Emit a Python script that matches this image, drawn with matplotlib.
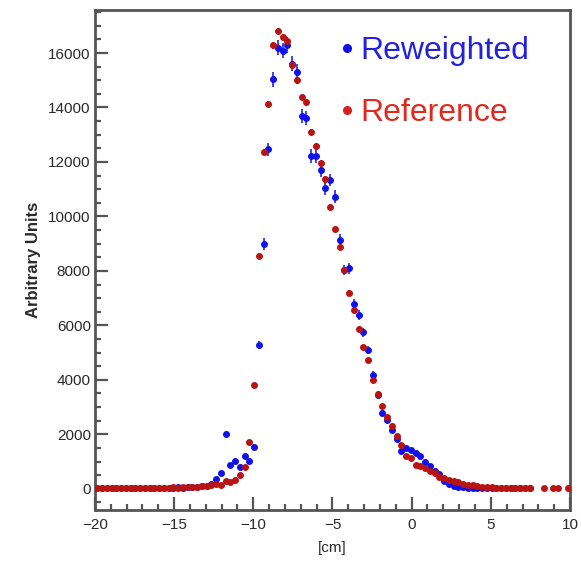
import numpy as np
import matplotlib
matplotlib.use("Agg")
import matplotlib.pyplot as plt
from matplotlib.ticker import MultipleLocator
from matplotlib.lines import Line2D

plt.rcParams['font.family'] = ['Liberation Sans', 'DejaVu Sans']

# ---- data (bin centres in cm, 0.3 cm bins) ----
bin_lo, bin_hi, bin_w = -20.0, 10.0, 0.3
x = np.round(np.arange(bin_lo + bin_w / 2, bin_hi, bin_w), 2)

reference = np.array([
    20, 25, 20, 25, 30, 20, 25, 30, 25, 30,
    35, 30, 40, 35, 45, 40, 50, 45, 60, 55,
    70, 80, 90, 100, 140, 160, 150, 300, 230, 320,
    500, 800, 1720, 3800, 8550, 12350, 14130, 16280, 16800, 16580,
    16450, 15550, 15000, 14380, 14190, 13100, 12600, 11950, 11360, 10340,
    9530, 8880, 8040, 7200, 6570, 5860, 5220, 4720, 4000, 3480,
    3050, 2650, 2290, 1920, 1610, 1190, 1130, 880, 820, 760,
    660, 570, 450, 390, 330, 290, 230, 180, 150, 120,
    100, 80, 70, 55, 45, 40, 35, 30, 25, 20,
    20, 15, np.nan, np.nan, 10, np.nan, 10, 10, np.nan, 10,
], dtype=float)

reweighted = np.array([
    30, 25, 20, 25, 20, 25, 30, 25, 30, 35,
    30, 35, 40, 35, 40, 45, 40, 50, 45, 50,
    60, 70, 90, 110, 180, 340, 580, 2010, 880, 1020,
    800, 1190, 1020, 1540, 5280, 8990, 12460, 15040, 16200, 16080,
    16300, 15600, 15320, 13680, 13600, 12220, 12220, 11700, 11030, 11340,
    10730, 9140, 8030, 8100, 6790, 6390, 5740, 5090, 4180, 3450,
    2780, 2530, 2140, 1820, 1370, 1490, 1430, 1310, 1190, 1000,
    820, 670, 550, 300, 160, 90, 70, 50, 45, 40,
    35, 35, 30, 30, 25, 25, 20, 20, 20, 20,
    20, 20, np.nan, np.nan, np.nan, np.nan, np.nan, np.nan, np.nan, np.nan,
], dtype=float)

ref_err = np.sqrt(reference)
rew_err = 2.2 * np.sqrt(reweighted)

x_ticks = [-20, -15, -10, -5, 0, 5, 10]
y_ticks = [0, 2000, 4000, 6000, 8000, 10000, 12000, 14000, 16000]
labels = ["Reweighted", "Reference"]

BLUE = "#1010e8"
RED = "#b81414"

fig = plt.figure(figsize=(5.81, 5.63), dpi=100, facecolor="white")
ax = fig.add_axes([95 / 581, 1 - 510 / 563, 475 / 581, 500 / 563])

ax.errorbar(x, reweighted, yerr=rew_err, fmt="o", ms=4.0, color=BLUE,
            mec=BLUE, elinewidth=1.1, capsize=0, zorder=3)
ax.errorbar(x, reference, yerr=ref_err, fmt="o", ms=4.0, color=RED,
            mec=RED, elinewidth=1.1, capsize=0, zorder=4)

ax.set_xlim(-20, 10)
ax.set_ylim(-780, 17580)
ax.set_xticks(x_ticks)
ax.set_yticks(y_ticks)
ax.set_xticklabels([str(t).replace("-", "\u2212") for t in x_ticks])
ax.xaxis.set_minor_locator(MultipleLocator(1))
ax.yaxis.set_minor_locator(MultipleLocator(500))

frame_col = "#555555"
for s in ax.spines.values():
    s.set_linewidth(2.0)
    s.set_color(frame_col)
ax.tick_params(which="both", direction="in", top=False, right=False,
               color=frame_col, width=1.6)
ax.tick_params(which="major", length=9.5, labelsize=11, labelcolor="#2a2a2a")
ax.tick_params(which="minor", length=4)
ax.tick_params(axis="x", which="major", pad=6)
ax.tick_params(axis="y", which="major", pad=3)

ax.set_xlabel("[cm]", fontsize=11, color="#2a2a2a", labelpad=6)
ax.set_ylabel("Arbitrary Units", fontsize=12, fontweight="bold",
              color="#2a2a2a", labelpad=5)

handles = [
    Line2D([], [], ls="none", marker="o", ms=5.5, color=BLUE),
    Line2D([], [], ls="none", marker="o", ms=5.5, color="#d81e1e"),
]
leg = ax.legend(handles, labels, loc="upper left", bbox_to_anchor=(0.518, 0.948),
                frameon=False, fontsize=23, handlelength=0.4, handletextpad=0.22,
                labelspacing=1.0, borderpad=0, borderaxespad=0,
                labelcolor=["#2222dd", "#e02a20"])

fig.savefig("out.png", dpi=100, facecolor="white")
